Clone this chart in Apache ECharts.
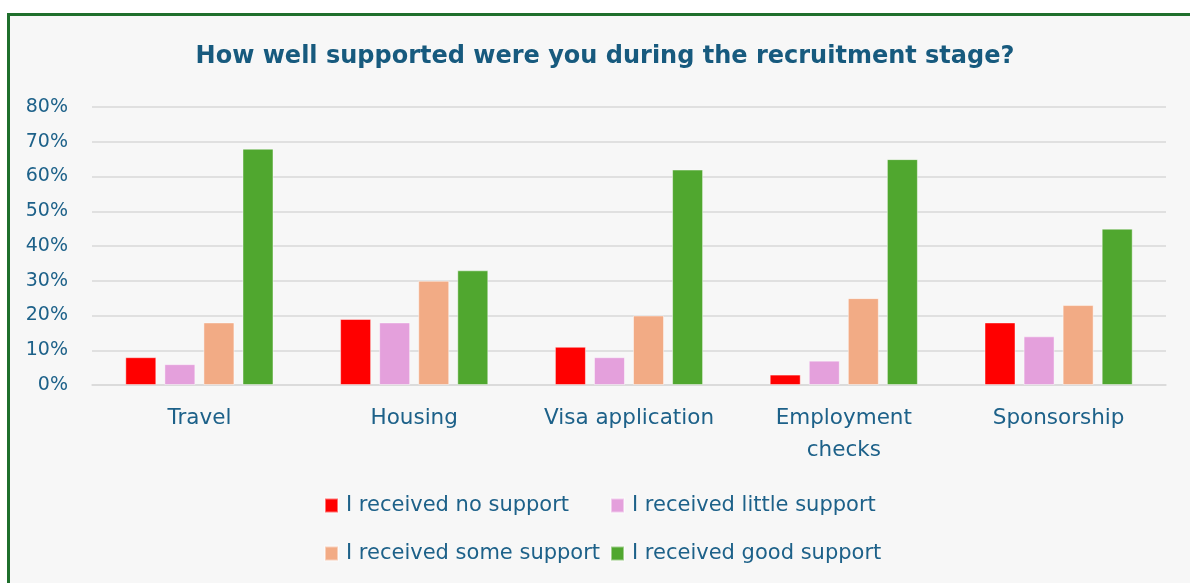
<!DOCTYPE html>
<html>
<head>
<meta charset="utf-8">
<title>Recruitment stage support</title>
<script src="https://cdn.jsdelivr.net/npm/echarts@6/dist/echarts.min.js"></script>
<style>
  html, body { margin: 0; padding: 0; background: #ffffff; overflow: hidden; }
  #frame {
    position: absolute; left: 7px; top: 13px; width: 1240px; height: 640px;
    border: 3px solid #1f6f2c; background: #f7f7f7; box-sizing: border-box;
  }
  #chart { position: absolute; left: 0; top: 0; width: 1190px; height: 583px; }
</style>
</head>
<body>
<div id="frame"></div>
<div id="chart"></div>
<script>
// Survey categories and the share (%) of respondents giving each answer
const categories = ['Travel', 'Housing', 'Visa application', 'Employment\nchecks', 'Sponsorship'];
const noSupport = [8, 19, 11, 3, 18];
const littleSupport = [6, 18, 8, 7, 14];
const someSupport = [18, 30, 20, 25, 23];
const goodSupport = [68, 33, 62, 65, 45];
const seriesNames = ['I received no support', 'I received little support', 'I received some support', 'I received good support'];
const seriesColors = ['#ff0000', '#e4a0dc', '#f2ab85', '#50a72f'];
const yTicks = { min: 0, max: 80, interval: 10 };

const textColor = '#1d6189';
const font = 'DejaVu Sans';

const chart = echarts.init(document.getElementById('chart'));

const values = [noSupport, littleSupport, someSupport, goodSupport];
const series = values.map((data, i) => ({
  name: seriesNames[i],
  type: 'bar',
  data: data,
  barWidth: 31,
  barGap: '26%',
  itemStyle: { color: seriesColors[i], borderColor: 'rgba(255,255,255,0.45)', borderWidth: 1 }
}));

const legendBase = {
  orient: 'vertical',
  top: 495,
  padding: 0,
  itemWidth: 13,
  itemHeight: 14,
  itemGap: 27,
  icon: 'rect',
  textStyle: { color: textColor, fontSize: 21, fontFamily: font, padding: [0, 0, 0, 3] }
};

chart.setOption({
  backgroundColor: 'transparent',
  textStyle: { fontFamily: font },
  title: {
    text: 'How well supported were you during the recruitment stage?',
    left: 600,
    textAlign: 'center',
    top: 40,
    textStyle: { color: '#175a7e', fontSize: 24, fontWeight: 'bold', fontFamily: font }
  },
  legend: [
    Object.assign({}, legendBase, { left: 324, data: [seriesNames[0], seriesNames[2]] }),
    Object.assign({}, legendBase, { left: 610, data: [seriesNames[1], seriesNames[3]] })
  ],
  grid: { left: 92, right: 24, top: 107, bottom: 198, containLabel: false },
  xAxis: {
    type: 'category',
    data: categories,
    axisLine: { show: true, lineStyle: { color: '#d9d9d9', width: 1.5 } },
    axisTick: { show: false },
    axisLabel: {
      interval: 0, hideOverlap: false,
      color: textColor, fontSize: 21.5, fontFamily: font, margin: 17, lineHeight: 32
    }
  },
  yAxis: {
    type: 'value',
    min: yTicks.min,
    max: yTicks.max,
    interval: yTicks.interval,
    axisLine: { show: false },
    axisTick: { show: false },
    splitLine: { lineStyle: { color: '#d9d9d9', width: 1.5 } },
    axisLabel: { color: textColor, fontSize: 19, fontFamily: font, margin: 24, formatter: '{value}%' }
  },
  series: series
});
</script>
</body>
</html>
